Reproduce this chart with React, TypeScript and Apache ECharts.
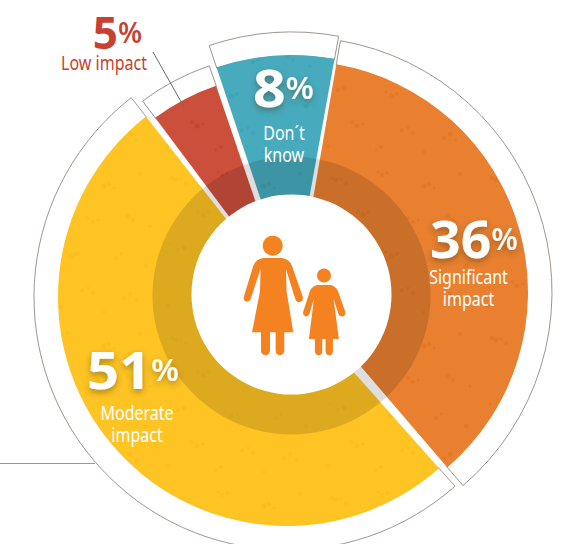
import React, { useEffect, useRef } from "react";
import * as echarts from "echarts";

const categories = ["Significant impact", "Moderate impact", "Low impact", "Don´t know"];
const values = [36, 51, 5, 8];
const colors = ["#E88030", "#FEC424", "#CC4F3C", "#47ABBD"];
const speckColors = ["#DF7420", "#F9BA1A", "#BF3F30", "#3D9FB2"];
const centers = [[297, 292], [287, 297], [287, 294], [292, 293]];
const fillRadii = [231, 229, 220, 238];
const outlineRadii = [255, 253, 241, 261];
const startAngles = [9.8, 138.4, 323.2, 341.5];

// hand-placed blotches of the paper-like mottling on the slices: x, y, radius
const specks = [
  [12, 18, 2], [16, 20, 2.5], [21, 19, 1.5], [26, 23, 2], [58, 12, 1.5], [62, 15, 2], [67, 13, 1.5],
  [104, 26, 2.5], [109, 24, 2], [114, 28, 1.5], [140, 14, 2], [38, 52, 2], [43, 55, 2.5], [48, 52, 1.5],
  [88, 58, 2], [93, 62, 2], [98, 60, 1.5], [128, 56, 2.5], [133, 60, 2], [150, 66, 1.5], [10, 84, 1.5],
  [18, 90, 2], [24, 88, 2.5], [66, 92, 1.5], [71, 96, 2.5], [77, 94, 2], [116, 98, 2], [121, 94, 1.5],
  [146, 106, 2.5], [32, 122, 2], [37, 126, 2.5], [43, 124, 1.5], [82, 130, 2], [88, 128, 1.5], [93, 133, 2],
  [124, 138, 2], [130, 134, 2.5], [136, 140, 1.5], [8, 146, 2], [56, 150, 1.5], [61, 147, 2], [104, 152, 1.5],
];

const womanBody = "M100 99 L155 99 Q178 102 186 122 L218 214 Q222 228 208 232 Q200 232 196 222 L168 132 L170 200 L190 322 L163 322 L163 378 Q162 391 150 391 Q138 391 137 378 L137 322 L120 322 L120 378 Q119 391 107 391 Q94 391 93 378 L93 322 L66 322 L90 200 L92 132 L62 222 Q58 232 48 230 Q38 226 42 214 L70 122 Q78 102 100 99 Z";
const childBody = "M262 180 L302 180 Q318 184 324 198 L346 260 Q348 272 338 275 Q330 276 326 268 L311 222 L327 342 L309 342 L309 380 Q308 391 298 391 Q288 391 287 380 L287 342 L277 342 L277 380 Q276 391 266 391 Q256 391 255 380 L255 342 L237 342 L252 222 L238 268 Q234 276 226 274 Q217 270 220 260 L240 198 Q246 184 262 180 Z";
echarts.graphic.registerShape("womanBody", echarts.graphic.extendPath(womanBody as any, {}) as any);
echarts.graphic.registerShape("childBody", echarts.graphic.extendPath(childBody as any, {}) as any);

const LABEL_FONT = '"Noto Sans", sans-serif';
const BOLD = '"Open Sans", "Noto Sans", sans-serif';
const OUTLINE = "#A0958F";
const FIGURE = "#F58220";

function texture(base: string, speck: string) {
  const c = document.createElement("canvas");
  c.width = 160;
  c.height = 160;
  const g = c.getContext("2d")!;
  g.fillStyle = base;
  g.fillRect(0, 0, 160, 160);
  g.fillStyle = speck;
  g.globalAlpha = 0.6;
  specks.forEach(([x, y, r]) => {
    g.beginPath();
    g.arc(x, y, r, 0, Math.PI * 2);
    g.fill();
  });
  return c;
}

function wedge(i: number, inner: number, outer: number, item: any, z: number) {
  return {
    type: "pie",
    silent: true,
    animation: false,
    z,
    center: centers[i],
    radius: [inner, outer],
    startAngle: 90 - startAngles[i],
    clockwise: true,
    label: { show: false },
    labelLine: { show: false },
    data: [
      { name: categories[i], value: values[i], itemStyle: item },
      { name: "rest", value: 100 - values[i], itemStyle: { color: "rgba(0,0,0,0)", borderWidth: 0 } },
    ],
  };
}

function bigText(num: string, size: number, pct: number, x: number, y: number, fill: string, shadow: boolean, scaleX: number) {
  const sh = shadow ? { textShadowColor: "rgba(70,50,20,0.45)", textShadowBlur: 6, textShadowOffsetY: 3 } : {};
  return {
    type: "text", z: 100, x, y, scaleX, silent: true,
    style: {
      text: `{n|${num}}{p|%}`,
      align: "center", verticalAlign: "middle",
      rich: {
        n: { font: `bold ${size}px ${BOLD}`, fill, ...sh },
        p: { font: `600 ${pct}px ${BOLD}`, fill, ...sh },
      },
    },
  };
}

function smallText(text: string, x: number, y: number, fill: string) {
  return {
    type: "text", z: 100, x, y, scaleX: 0.8, silent: true,
    style: { text, align: "center", verticalAlign: "middle", font: `20px ${LABEL_FONT}`, fill },
  };
}

export default function App() {
  const ref = useRef<HTMLDivElement>(null);
  useEffect(() => {
    const chart = echarts.init(ref.current!, undefined, { renderer: "svg" });
    const outlines = values.map((_, i) =>
      wedge(i, fillRadii[i] - 1, outlineRadii[i], { color: "#fff", borderColor: OUTLINE, borderWidth: 1 }, 1));
    const fills = values.map((_, i) =>
      wedge(i, 0, fillRadii[i], { color: { image: texture(colors[i], speckColors[i]), repeat: "repeat" } }, 2));
    chart.setOption({
      animation: false,
      backgroundColor: "#fff",
      series: [
        ...outlines,
        ...fills,
        { type: "pie", silent: true, z: 3, center: [291.5, 295.5], radius: [90, 139], label: { show: false }, labelLine: { show: false }, data: [{ value: 1, itemStyle: { color: "rgba(0,0,0,0.13)" } }] },
        { type: "pie", silent: true, z: 4, center: [291.5, 294.5], radius: [0, 100], label: { show: false }, labelLine: { show: false }, data: [{ value: 1, itemStyle: { color: "#fff" } }] },
      ],
      graphic: [
        { type: "line", z: 50, silent: true, shape: { x1: 0, y1: 463.5, x2: 95, y2: 463.5 }, style: { stroke: OUTLINE, lineWidth: 1 } },
        { type: "line", z: 50, silent: true, shape: { x1: 153, y1: 52, x2: 184, y2: 107 }, style: { stroke: "#6b6b6b", lineWidth: 1 } },
        { type: "circle", z: 50, silent: true, shape: { cx: 272.7, cy: 245.7, r: 10 }, style: { fill: FIGURE } },
        { type: "circle", z: 50, silent: true, shape: { cx: 324, cy: 275.5, r: 7 }, style: { fill: FIGURE } },
        { type: "womanBody", z: 50, silent: true, x: 230, y: 225, scaleX: 1 / 3, scaleY: 1 / 3, style: { fill: FIGURE } },
        { type: "childBody", z: 50, silent: true, x: 230, y: 225, scaleX: 1 / 3, scaleY: 1 / 3, style: { fill: FIGURE } },
        bigText("5", 44, 28, 117.5, 32, "#C8402F", false, 1),
        smallText("Low impact", 104, 62, "#C8402F"),
        bigText("8", 52, 30, 283.5, 87, "#fff", true, 1.1),
        smallText("Don´t", 284, 132, "#fff"),
        smallText("know", 284, 154, "#fff"),
        bigText("36", 52, 30, 474, 238, "#fff", true, 1.03),
        smallText("Significant", 468.5, 276, "#fff"),
        smallText("impact", 468.5, 298, "#fff"),
        bigText("51", 52, 30, 133, 369, "#fff", true, 1.08),
        smallText("Moderate", 137, 412, "#fff"),
        smallText("impact", 137, 434, "#fff"),
      ],
    });
    return () => chart.dispose();
  }, []);
  return <div ref={ref} style={{ position: "absolute", left: 0, top: 0, width: 563, height: 544 }} />;
}
